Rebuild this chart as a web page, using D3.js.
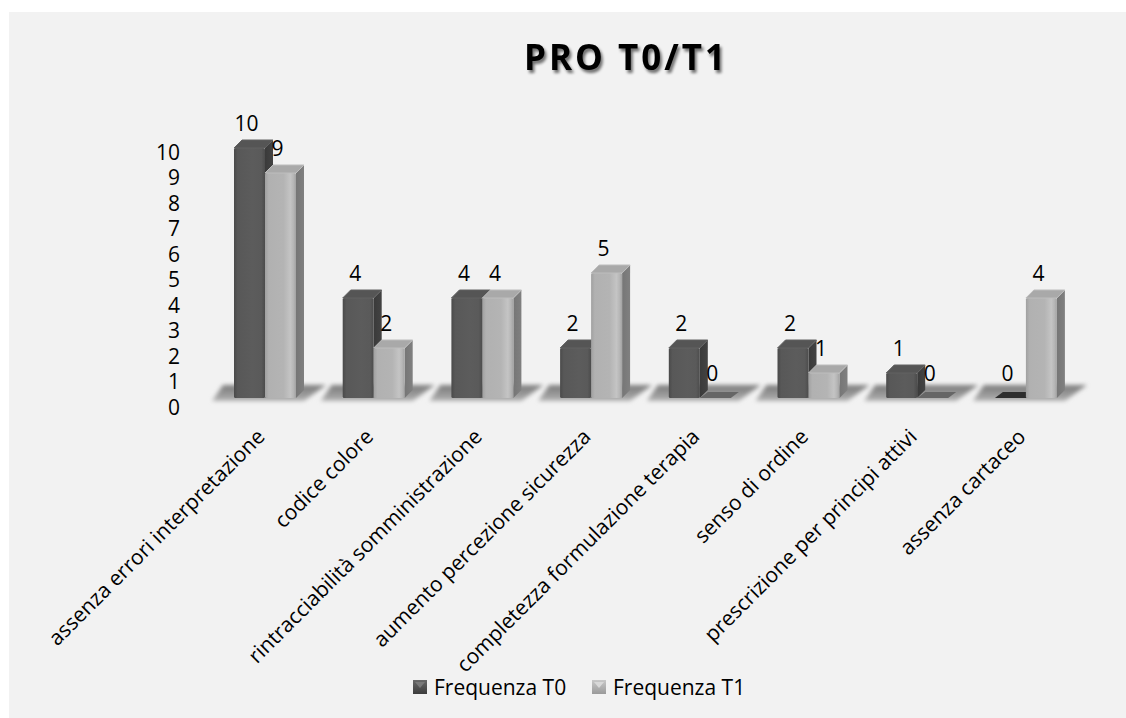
<!DOCTYPE html>
<html>
<head>
<meta charset="utf-8">
<script src="https://cdn.jsdelivr.net/npm/d3@7"></script>
<style>
  html, body { margin: 0; padding: 0; background: #ffffff; }
  svg { display: block; }
  text { font-family: "Open Sans", "Noto Sans", sans-serif; fill: #000; }
</style>
</head>
<body>
<svg id="chart" width="1126" height="718"></svg>
<script>
// ---- data ----
const categories = [
  "assenza errori interpretazione",
  "codice colore",
  "rintracciabilità somministrazione",
  "aumento percezione sicurezza",
  "completezza formulazione terapia",
  "senso di ordine",
  "prescrizione per principi attivi",
  "assenza cartaceo"
];
const seriesNames = ["Frequenza T0", "Frequenza T1"];
const freqT0 = [10, 4, 4, 2, 2, 2, 1, 0];
const freqT1 = [9, 2, 4, 5, 0, 1, 0, 4];
const yTicks = [0, 1, 2, 3, 4, 5, 6, 7, 8, 9, 10];
const chartTitle = "PRO T0/T1";

const rows = categories.map((c, i) => ({ cat: c, vals: [freqT0[i], freqT1[i]] }));

// ---- layout ----
const svg = d3.select("#chart");
const W = 1126, H = 718;
const step = 108.7, barsW = 62;
const x0 = 234 - (step - barsW) / 2;
const depthX = 8, depthY = 8;

const x = d3.scaleBand()
  .domain(categories)
  .range([x0, x0 + categories.length * step])
  .paddingInner((step - barsW) / step)
  .paddingOuter((step - barsW) / step / 2);
const xs = d3.scaleBand().domain(seriesNames).range([0, x.bandwidth()]);
const y = d3.scaleLinear().domain([0, 10]).range([398, 148]);
// wall axis (the value labels on the back wall sit slightly lower)
const yWall = d3.scaleLinear().domain([0, 10]).range([407, 152]);

// ---- defs ----
const defs = svg.append("defs");
function hGrad(id, stops) {
  const g = defs.append("linearGradient").attr("id", id)
    .attr("x1", "0").attr("x2", "1").attr("y1", "0").attr("y2", "0");
  stops.forEach(s => g.append("stop").attr("offset", s[0]).attr("stop-color", s[1]));
}
function vGrad(id, stops) {
  const g = defs.append("linearGradient").attr("id", id)
    .attr("x1", "0").attr("x2", "0").attr("y1", "0").attr("y2", "1");
  stops.forEach(s => g.append("stop").attr("offset", s[0]).attr("stop-color", s[1]));
}
hGrad("front0", [[0, "#4a4a4a"], [0.12, "#585858"], [0.6, "#5c5c5c"], [0.88, "#5a5a5a"], [1, "#4c4c4c"]]);
hGrad("front1", [[0, "#a0a0a0"], [0.12, "#b1b1b1"], [0.6, "#b4b4b4"], [0.82, "#c4c4c4"], [0.92, "#b6b6b6"], [1, "#a2a2a2"]]);
hGrad("side0", [[0, "#3a3a3a"], [1, "#434343"]]);
hGrad("side1", [[0, "#767676"], [1, "#808080"]]);
vGrad("plate", [[0, "#7c7c7c"], [0.5, "#939393"], [1, "#b4b4b4"]]);
vGrad("legend0", [[0, "#6a6a6a"], [1, "#3c3c3c"]]);
vGrad("legend1", [[0, "#c8c8c8"], [1, "#9a9a9a"]]);

const blur = defs.append("filter").attr("id", "soft")
  .attr("x", "-20%").attr("y", "-60%").attr("width", "140%").attr("height", "220%");
blur.append("feGaussianBlur").attr("stdDeviation", 2.2);

const shadow = defs.append("filter").attr("id", "titleShadow")
  .attr("x", "-10%").attr("y", "-30%").attr("width", "120%").attr("height", "170%");
shadow.append("feGaussianBlur").attr("in", "SourceAlpha").attr("stdDeviation", 1.6).attr("result", "b");
shadow.append("feOffset").attr("in", "b").attr("dx", 2).attr("dy", 3).attr("result", "o");
shadow.append("feComponentTransfer").attr("in", "o").attr("result", "s")
  .append("feFuncA").attr("type", "linear").attr("slope", 0.55);
const merge = shadow.append("feMerge");
merge.append("feMergeNode").attr("in", "s");
merge.append("feMergeNode").attr("in", "SourceGraphic");

// ---- panel ----
svg.append("rect").attr("x", 0).attr("y", 0).attr("width", W).attr("height", H).attr("fill", "#ffffff");
svg.append("rect").attr("x", 9).attr("y", 12).attr("width", W - 9).attr("height", H - 12).attr("fill", "#f2f2f2");

// ---- title ----
svg.append("text")
  .attr("x", 626).attr("y", 70)
  .attr("text-anchor", "middle")
  .attr("font-size", 35).attr("font-weight", 700)
  .attr("letter-spacing", 3)
  .attr("filter", "url(#titleShadow)")
  .text(chartTitle);

// ---- y axis labels ----
svg.append("g").selectAll("text").data(yTicks).join("text")
  .attr("x", 180).attr("y", d => yWall(d))
  .attr("dy", "0.36em")
  .attr("text-anchor", "end")
  .attr("font-size", 21)
  .text(d => d);

// ---- floor plates under each group ----
const base = y(0);
svg.append("g").attr("filter", "url(#soft)")
  .selectAll("path").data(rows).join("path")
  .attr("d", d => {
    const s = x(d.cat);
    return `M${s - 22},${base + 3} L${s - 11},${base - 13} L${s + barsW + 30},${base - 13} L${s + barsW + 8},${base + 3} Z`;
  })
  .attr("fill", "url(#plate)");

// ---- 3D bars ----
const bw = xs.bandwidth();
const groups = svg.append("g").selectAll("g").data(rows).join("g")
  .attr("transform", d => `translate(${x(d.cat)},0)`);

seriesNames.forEach((name, si) => {
  const bx = xs(name);
  const bars = groups.append("g");
  // side face
  bars.append("path")
    .attr("d", d => {
      const t = y(d.vals[si]);
      return `M${bx + bw},${t} L${bx + bw + depthX},${t - depthY} L${bx + bw + depthX},${base - depthY} L${bx + bw},${base} Z`;
    })
    .attr("fill", d => d.vals[si] > 0 ? `url(#side${si})` : "none");
  // front face
  bars.append("rect")
    .attr("x", bx).attr("width", bw)
    .attr("y", d => y(d.vals[si]))
    .attr("height", d => base - y(d.vals[si]))
    .attr("rx", 1.5)
    .attr("fill", `url(#front${si})`);
  // top face
  bars.append("path")
    .attr("d", d => {
      const t = y(d.vals[si]);
      const dy = d.vals[si] > 0 ? depthY : 6;
      return `M${bx},${t} L${bx + depthX},${t - dy} L${bx + bw + depthX},${t - dy} L${bx + bw},${t} Z`;
    })
    .attr("fill", d => {
      if (d.vals[si] === 0) return si === 0 ? "#2e2e2e" : "#666666";
      return si === 0 ? "#555555" : "#a9a9a9";
    })
    .attr("stroke", d => d.vals[si] > 0 ? (si === 0 ? "#626262" : "#bdbdbd") : "none")
    .attr("stroke-width", 1)
    .attr("stroke-linejoin", "round");
  // value labels
  bars.append("text")
    .attr("x", bx + bw / 2 - 3)
    .attr("y", d => y(d.vals[si]) - 25)
    .attr("dy", "0.36em")
    .attr("text-anchor", "middle")
    .attr("font-size", 21)
    .text(d => d.vals[si]);
});

// ---- category labels ----
svg.append("g").selectAll("text").data(categories).join("text")
  .attr("transform", d => `translate(${x(d) + x.bandwidth() / 2 + 1},438) rotate(-45)`)
  .attr("text-anchor", "end")
  .attr("font-size", 21)
  .text(d => d);

// ---- legend ----
const legendX = [413, 592];
const legend = svg.append("g").selectAll("g").data(seriesNames).join("g")
  .attr("transform", (d, i) => `translate(${legendX[i]},680)`);
legend.append("rect").attr("width", 14).attr("height", 14)
  .attr("fill", (d, i) => `url(#legend${i})`);
legend.append("path").attr("d", "M2,2 L12,2 L7,8 Z")
  .attr("fill", (d, i) => i === 0 ? "#7a7a7a" : "#d8d8d8");
legend.append("text").attr("x", 21).attr("y", 7).attr("dy", "0.36em")
  .attr("font-size", 21)
  .text(d => d);
</script>
</body>
</html>
